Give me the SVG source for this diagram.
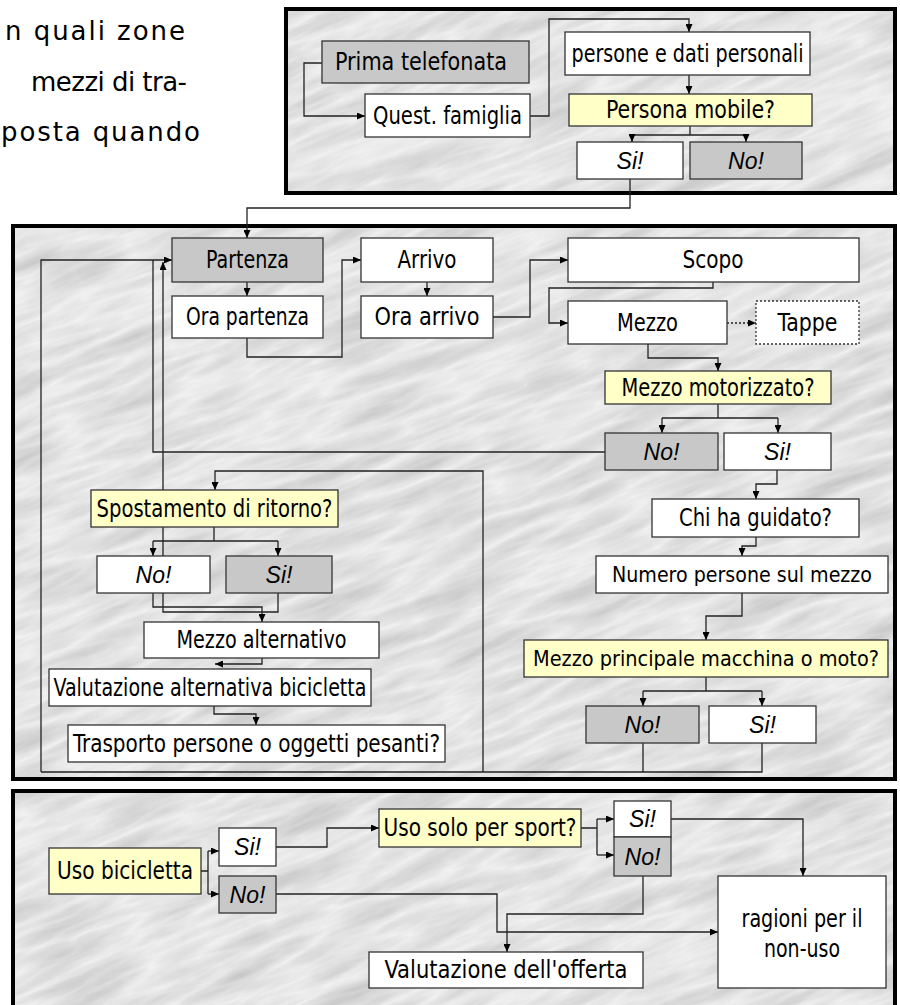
<svg xmlns="http://www.w3.org/2000/svg" width="900" height="1005" viewBox="0 0 900 1005">
<defs>
<style>
.frame{fill:none;stroke:#000;stroke-width:4}
.box{stroke:#333;stroke-width:1.3}
.w{fill:#fff}.g{fill:#c8c8c8}.y{fill:#ffffc8}
.dot{stroke-dasharray:2,2}
.t{font-family:"Liberation Sans Narrow","DejaVu Sans Condensed","Liberation Sans",sans-serif;font-size:24px;fill:#000;text-anchor:middle}
.s{font-size:22px}
.i{font-family:"Liberation Sans",Arial,sans-serif;font-style:italic;font-size:23px;fill:#000;text-anchor:middle}
.intro{font-family:"DejaVu Sans","Liberation Sans",sans-serif;font-size:26px;fill:#000}
.c{fill:none;stroke:#222;stroke-width:1.3}
.a{marker-end:url(#ah)}
.ds{stroke-dasharray:2,2}
</style>
<marker id="ah" markerWidth="8" markerHeight="7" refX="8" refY="3.5" orient="auto" markerUnits="userSpaceOnUse">
<path d="M0,0 L8,3.5 L0,7 z" fill="#000"/>
</marker>
<filter id="marb" x="0" y="0" width="1" height="1" color-interpolation-filters="sRGB">
<feTurbulence type="turbulence" baseFrequency="0.008 0.045" numOctaves="4" seed="7" result="n"/>
<feColorMatrix in="n" type="matrix" values="-0.2 0 0 0 0.95  -0.2 0 0 0 0.95  -0.2 0 0 0 0.95  0 0 0 0 1" result="m"/>
<feComposite in="m" in2="SourceGraphic" operator="in"/>
</filter>
<clipPath id="pclip">
<rect x="286" y="9" width="609" height="184"/>
<rect x="13" y="226" width="882" height="553"/>
<rect x="13" y="791" width="882" height="230"/>
</clipPath>
</defs>

<g id="intro">
<text class="intro" x="5" y="40" textLength="180" lengthAdjust="spacing">n quali zone</text>
<text class="intro" x="31" y="91" textLength="156" lengthAdjust="spacing">mezzi di tra-</text>
<text class="intro" x="1" y="141" textLength="199" lengthAdjust="spacing">posta quando</text>
</g>

<g id="panels">
<g clip-path="url(#pclip)">
<rect x="-300" y="-300" width="1500" height="1600" fill="#ddd" filter="url(#marb)" transform="rotate(-22 450 500)"/>
</g>
<rect class="frame" x="286" y="9" width="609" height="184"/>
<rect class="frame" x="13" y="226" width="882" height="553"/>
<rect class="frame" x="13" y="791" width="882" height="230"/>
</g>

<g id="connectors">
<path class="c a" d="M322 63 H304 V116 H365"/>
<path class="c a" d="M530 116 H549 V19 H689 V32"/>
<path class="c a" d="M689 75 V94"/>
<path class="c" d="M690 126 V135 M632 135 H746"/>
<path class="c a" d="M632 135 V142"/>
<path class="c a" d="M746 135 V142"/>
<path class="c a" d="M630 179 V208 H247 V238"/>

<path class="c a" d="M247 282 V296"/>
<path class="c a" d="M247 338 V357 H342 V260 H361"/>
<path class="c a" d="M427 282 V296"/>
<path class="c a" d="M493 317 H530 V260 H568"/>
<path class="c a" d="M713 282 V288 H549 V323 H568"/>
<path class="c a ds" d="M727 323 H756"/>
<path class="c a" d="M648 344 V358 H718 V371"/>
<path class="c" d="M718 404 V418 M662 418 H778"/>
<path class="c a" d="M662 418 V433"/>
<path class="c a" d="M778 418 V433"/>
<path class="c" d="M605 452 H153 V260"/>
<path class="c a" d="M41 772 V260 H172"/>
<path class="c a" d="M777 470 V484 H756 V499"/>
<path class="c a" d="M756 537 V546 H742 V556"/>
<path class="c a" d="M742 593 V616 H706 V640"/>
<path class="c" d="M706 677 V691 M643 691 H762"/>
<path class="c a" d="M643 691 V706"/>
<path class="c a" d="M762 691 V706"/>
<path class="c" d="M643 743 V772 M762 743 V772 H41"/>
<path class="c a" d="M483 772 V471 H215 V490"/>
<path class="c" d="M214 527 V541 M153 541 H278"/>
<path class="c a" d="M153 541 V556"/>
<path class="c a" d="M278 541 V556"/>
<path class="c a" d="M153 593 V607 H262 V622"/>
<path class="c a" d="M278 593 V612 H163 V262"/>
<path class="c a" d="M262 658 V664 H215"/>
<path class="c a" d="M214 706 V714 H256 V725"/>

<path class="c" d="M201 871 H208 M208 851 V894"/>
<path class="c a" d="M208 851 H219"/>
<path class="c a" d="M208 894 H219"/>
<path class="c a" d="M276 847 H327 V828 H379"/>
<path class="c a" d="M276 894 H497 V932 H718"/>
<path class="c" d="M581 828 H597 M597 819 V855"/>
<path class="c a" d="M597 819 H614"/>
<path class="c a" d="M597 855 H614"/>
<path class="c a" d="M671 819 H803 V876"/>
<path class="c a" d="M643 876 V914 H507 V952"/>
</g>

<g id="n_prima"><rect class="box g" x="322" y="41" width="207" height="42"/><text class="t" x="421" y="70" textLength="172" lengthAdjust="spacingAndGlyphs">Prima telefonata</text></g>
<g id="n_quest"><rect class="box w" x="365" y="94" width="165" height="43"/><text class="t" x="447.5" y="124" textLength="149" lengthAdjust="spacingAndGlyphs">Quest. famiglia</text></g>
<g id="n_persone"><rect class="box w" x="565" y="32" width="245" height="43"/><text class="t" x="687.5" y="62" textLength="232" lengthAdjust="spacingAndGlyphs">persone e dati personali</text></g>
<g id="n_mobile"><rect class="box y" x="569" y="94" width="243" height="32"/><text class="t" x="690.5" y="118" textLength="169" lengthAdjust="spacingAndGlyphs">Persona mobile?</text></g>
<g id="n_si1"><rect class="box w" x="577" y="142" width="106" height="37"/><text class="i" x="630" y="169">Si!</text></g>
<g id="n_no1"><rect class="box g" x="690" y="142" width="112" height="37"/><text class="i" x="746" y="169">No!</text></g>

<g id="n_partenza"><rect class="box g" x="172" y="238" width="151" height="44"/><text class="t" x="247.5" y="268" textLength="83" lengthAdjust="spacingAndGlyphs">Partenza</text></g>
<g id="n_orapartenza"><rect class="box w" x="172" y="296" width="151" height="42"/><text class="t" x="247.5" y="325" textLength="123" lengthAdjust="spacingAndGlyphs">Ora partenza</text></g>
<g id="n_arrivo"><rect class="box w" x="361" y="238" width="132" height="44"/><text class="t" x="427" y="268" textLength="59" lengthAdjust="spacingAndGlyphs">Arrivo</text></g>
<g id="n_oraarrivo"><rect class="box w" x="361" y="296" width="132" height="42"/><text class="t" x="427" y="325" textLength="105" lengthAdjust="spacingAndGlyphs">Ora arrivo</text></g>
<g id="n_scopo"><rect class="box w" x="568" y="238" width="291" height="44"/><text class="t" x="713" y="268" textLength="61" lengthAdjust="spacingAndGlyphs">Scopo</text></g>
<g id="n_mezzo"><rect class="box w" x="568" y="301" width="159" height="43"/><text class="t" x="647.5" y="331" textLength="61" lengthAdjust="spacingAndGlyphs">Mezzo</text></g>
<g id="n_tappe"><rect class="box w dot" x="756" y="301" width="103" height="43"/><text class="t" x="807.5" y="331" textLength="60" lengthAdjust="spacingAndGlyphs">Tappe</text></g>
<g id="n_motor"><rect class="box y" x="605" y="371" width="226" height="33"/><text class="t" x="718" y="396" textLength="193" lengthAdjust="spacingAndGlyphs">Mezzo motorizzato?</text></g>
<g id="n_no2"><rect class="box g" x="605" y="433" width="113" height="37"/><text class="i" x="661.5" y="460">No!</text></g>
<g id="n_si2"><rect class="box w" x="724" y="433" width="107" height="37"/><text class="i" x="777.5" y="460">Si!</text></g>
<g id="n_chi"><rect class="box w" x="652" y="499" width="207" height="38"/><text class="t" x="755.5" y="526" textLength="153" lengthAdjust="spacingAndGlyphs">Chi ha guidato?</text></g>
<g id="n_numero"><rect class="box w" x="596" y="556" width="292" height="37"/><text class="t s" x="742" y="582" textLength="260" lengthAdjust="spacingAndGlyphs">Numero persone sul mezzo</text></g>
<g id="n_principale"><rect class="box y" x="524" y="640" width="364" height="37"/><text class="t s" x="706" y="666" textLength="346" lengthAdjust="spacingAndGlyphs">Mezzo principale macchina o moto?</text></g>
<g id="n_no3"><rect class="box g" x="586" y="706" width="113" height="37"/><text class="i" x="642.5" y="733">No!</text></g>
<g id="n_si3"><rect class="box w" x="709" y="706" width="107" height="37"/><text class="i" x="762.5" y="733">Si!</text></g>
<g id="n_ritorno"><rect class="box y" x="91" y="490" width="247" height="37"/><text class="t" x="214.5" y="517" textLength="236" lengthAdjust="spacingAndGlyphs">Spostamento di ritorno?</text></g>
<g id="n_no4"><rect class="box w" x="97" y="556" width="113" height="37"/><text class="i" x="153.5" y="583">No!</text></g>
<g id="n_si4"><rect class="box g" x="226" y="556" width="106" height="37"/><text class="i" x="279" y="583">Si!</text></g>
<g id="n_alternativo"><rect class="box w" x="144" y="622" width="235" height="36"/><text class="t" x="261.5" y="648" textLength="170" lengthAdjust="spacingAndGlyphs">Mezzo alternativo</text></g>
<g id="n_valbici"><rect class="box w" x="49" y="669" width="322" height="37"/><text class="t" x="210" y="696" textLength="313" lengthAdjust="spacingAndGlyphs">Valutazione alternativa bicicletta</text></g>
<g id="n_trasporto"><rect class="box w" x="68" y="725" width="377" height="37"/><text class="t" x="256.5" y="752" textLength="367" lengthAdjust="spacingAndGlyphs">Trasporto persone o oggetti pesanti?</text></g>

<g id="n_uso"><rect class="box y" x="49" y="848" width="152" height="46"/><text class="t" x="125" y="879" textLength="136" lengthAdjust="spacingAndGlyphs">Uso bicicletta</text></g>
<g id="n_si5"><rect class="box w" x="219" y="828" width="57" height="38"/><text class="i" x="247.5" y="855">Si!</text></g>
<g id="n_no5"><rect class="box g" x="219" y="876" width="57" height="37"/><text class="i" x="247.5" y="903">No!</text></g>
<g id="n_sport"><rect class="box y" x="379" y="809" width="202" height="38"/><text class="t" x="480" y="836" textLength="193" lengthAdjust="spacingAndGlyphs">Uso solo per sport?</text></g>
<g id="n_si6"><rect class="box w" x="614" y="801" width="57" height="36"/><text class="i" x="642.5" y="827">Si!</text></g>
<g id="n_no6"><rect class="box g" x="614" y="837" width="57" height="39"/><text class="i" x="642.5" y="865">No!</text></g>
<g id="n_ragioni"><rect class="box w" x="718" y="876" width="168" height="112"/><text class="t" x="802" y="927" textLength="121" lengthAdjust="spacingAndGlyphs">ragioni per il</text><text class="t" x="802" y="957" textLength="76" lengthAdjust="spacingAndGlyphs">non-uso</text></g>
<g id="n_valofferta"><rect class="box w" x="369" y="952" width="274" height="36"/><text class="t" x="506" y="978" textLength="243" lengthAdjust="spacingAndGlyphs">Valutazione dell'offerta</text></g>
</svg>
